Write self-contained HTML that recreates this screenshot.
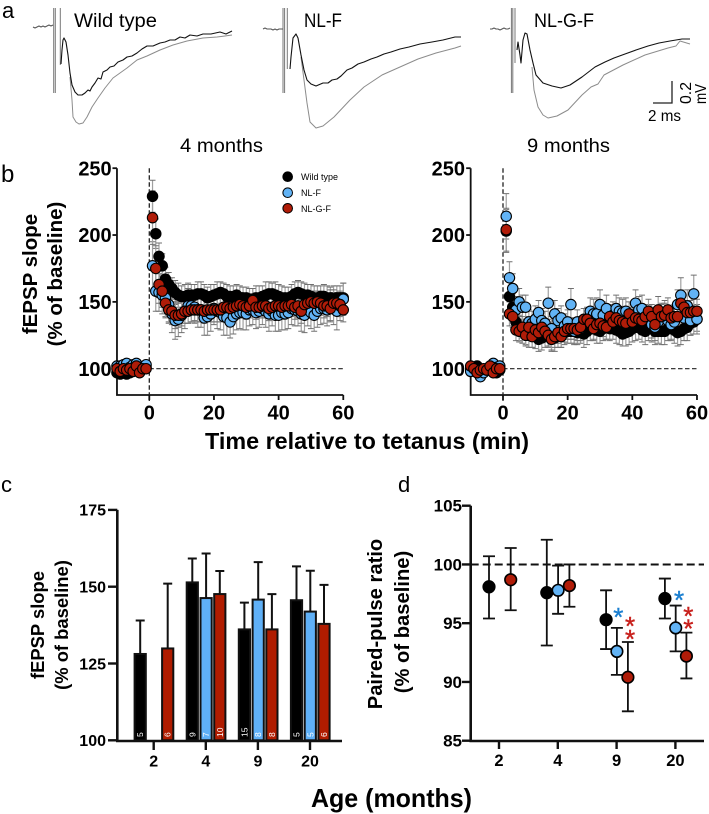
<!DOCTYPE html>
<html lang="en">
<head>
<meta charset="utf-8">
<title>fEPSP recordings by genotype and age</title>
<style>
html,body{margin:0;padding:0;background:#fff;width:709px;height:814px;overflow:hidden}
svg{display:block;font-family:"Liberation Sans",Arial,sans-serif}
</style>
</head>
<body>
<svg id="fig" width="709" height="814" viewBox="0 0 709 814" xmlns="http://www.w3.org/2000/svg">
  <g id="traces"></g>
  <g id="panelB"></g>
  <g id="panelC"></g>
  <g id="panelD"></g>

  <text x="2" y="18" font-size="22">a</text>
  <text x="1" y="182" font-size="24">b</text>
  <text x="1" y="492" font-size="22">c</text>
  <text x="398" y="492" font-size="22">d</text>

  <text x="74" y="27" font-size="19" textLength="83" lengthAdjust="spacingAndGlyphs">Wild type</text>
  <text x="304" y="27" font-size="19" textLength="38" lengthAdjust="spacingAndGlyphs">NL-F</text>
  <text x="534" y="27" font-size="19" textLength="60" lengthAdjust="spacingAndGlyphs">NL-G-F</text>

  <g>
    <path d="M672 81V103H653" fill="none" stroke="#222" stroke-width="1.3"/>
    <text x="648" y="121" font-size="16" textLength="33" lengthAdjust="spacingAndGlyphs">2 ms</text>
    <text transform="translate(691,104) rotate(-90)" font-size="16" textLength="22" lengthAdjust="spacingAndGlyphs">0.2</text>
    <text transform="translate(706,104) rotate(-90)" font-size="16" textLength="20" lengthAdjust="spacingAndGlyphs">mV</text>
  </g>

  <text x="180" y="152" font-size="19" textLength="83" lengthAdjust="spacingAndGlyphs">4 months</text>
  <text x="527" y="152" font-size="19" textLength="83" lengthAdjust="spacingAndGlyphs">9 months</text>

  <text transform="translate(37,274) rotate(-90)" text-anchor="middle" font-size="20.5" font-weight="bold">fEPSP slope</text>
  <text transform="translate(62,274) rotate(-90)" text-anchor="middle" font-size="20.5" font-weight="bold">(% of baseline)</text>
  <text x="205" y="449" font-size="23" font-weight="bold" textLength="324" lengthAdjust="spacingAndGlyphs">Time relative to tetanus (min)</text>

  <g>
    <g>
      <circle cx="287.7" cy="176.7" r="4.8" fill="#000" stroke="#000"/>
      <text x="301" y="180" font-size="9">Wild type</text>
    </g>
    <g>
      <circle cx="287.7" cy="192.7" r="4.8" fill="#62b3f5" stroke="#000"/>
      <text x="301" y="196" font-size="9">NL-F</text>
    </g>
    <g>
      <circle cx="287.7" cy="208.3" r="4.8" fill="#b01c08" stroke="#000"/>
      <text x="301" y="212" font-size="9">NL-G-F</text>
    </g>
  </g>

  <text transform="translate(44,625) rotate(-90)" text-anchor="middle" font-size="18.4" font-weight="bold">fEPSP slope</text>
  <text transform="translate(68,625) rotate(-90)" text-anchor="middle" font-size="18.4" font-weight="bold">(% of baseline)</text>
  <text transform="translate(382,624) rotate(-90)" text-anchor="middle" font-size="20.2" font-weight="bold">Paired-pulse ratio</text>
  <text transform="translate(409,622) rotate(-90)" text-anchor="middle" font-size="20.2" font-weight="bold">(% of baseline)</text>
  <text x="311" y="807" font-size="26" font-weight="bold" textLength="161" lengthAdjust="spacingAndGlyphs">Age (months)</text>
</svg>

<script>
// ---------- Panel a: field-potential traces (sample index / amplitude units from baseline) ----------
var baseT = [0,2,4,6,8,10,12,14,16,18,20];
var wtBaseA = [0,-1,0,1,0,1,0,1,2,1,2];
var nlfBaseA = [0,1,0,0,0,-1,0,-1,0,0,0];
var nlgfBaseA = [0,0,1,0,0,-1,0,1,0,0,1];

var wtBlackT = [28,29,30,31,33,35,37,39,42,45,49,52,55,57,59,62,65,68,70,74,77,81,85,90,94,99,104,109,114,120,127,132,137,142,147,152,157,164,170,178,187,193,199];
var wtBlackA = [-37,-23,-13,-11,-15,-28,-46,-58,-65,-68,-68,-66,-63,-64,-60,-56,-51,-52,-45,-43,-40,-39,-35,-33,-30,-29,-26,-22,-19,-19,-16,-15,-13,-13,-10,-11,-8,-9,-7,-7,-5,-7,-4];
var wtGrayT = [37,39,40,43,46,50,54,59,65,72,80,87,94,104,114,127,140,154,170,184,192,199];
var wtGrayA = [-50,-73,-90,-95,-97,-96,-90,-80,-71,-61,-51,-46,-41,-33,-29,-23,-18,-14,-11,-10,-9,-8];

var nlfBlackT = [27,28,30,33,35,38,41,44,48,53,60,65,69,74,78,84,89,95,101,108,114,121,128,137,146,157,169,180,192,198];
var nlfBlackA = [-40,-28,-9,-5,-9,-26,-41,-51,-55,-57,-54,-54,-51,-50,-47,-41,-39,-35,-33,-30,-28,-25,-23,-20,-18,-15,-13,-11,-8,-8];
var nlfGrayT = [38,41,44,47,53,60,71,87,101,119,137,155,173,192,198];
var nlfGrayA = [-28,-51,-74,-93,-99,-97,-88,-71,-58,-46,-38,-30,-24,-19,-17];

var nlgfBlackT = [27,28,30,31,33,35,37,40,43,46,53,62,71,80,92,105,115,124,135,146,158,169,180,192,200];
var nlgfBlackA = [-21,-13,-26,-34,-11,-4,-5,-21,-34,-46,-54,-57,-59,-56,-48,-38,-33,-29,-25,-21,-17,-14,-12,-10,-10];
var nlgfGrayT = [42,44,48,53,58,67,78,92,101,108,114,133,155,178,186,190,200];
var nlgfGrayA = [-38,-61,-78,-86,-89,-87,-81,-66,-58,-55,-46,-36,-26,-19,-17,-12,-15];

// ---------- Panel b: LTP time course ----------
var baselineMinutes = [-10,-9,-8,-7,-6,-5,-4,-3,-2,-1];
var postMinutes = [1,2,3,4,5,6,7,8,9,10,11,12,13,14,15,16,17,18,19,20,21,22,23,24,25,26,27,28,29,30,31,32,33,34,35,36,37,38,39,40,41,42,43,44,45,46,47,48,49,50,51,52,53,54,55,56,57,58,59,60];
var bAxisYTicks = [100,150,200,250];
var bAxisXTicks = [0,20,40,60];

var m4BlackBase = [97,96,97,96,97,99,100,99,100,101];
var m4BlueBase = [102,102,103,104,101,103,104,101,101,103];
var m4RedBase = [100,98,100,99,100,98,102,97,100,100];
var m4Black = [229,201,184,177,167,163,160,157,155,154,
154,155,155,155,156,156,155,153,154,155,
156,157,156,154,154,154,155,153,153,153,
152,152,153,153,154,155,156,156,155,154,
153,153,153,154,156,157,156,155,155,154,
153,153,154,154,153,153,152,153,153,153];
var m4Blue = [177,158,157,155,153,148,141,136,137,140,
143,147,147,146,144,144,138,139,141,145,
143,142,139,138,135,139,141,142,142,141,
144,144,142,143,145,143,141,143,140,140,
142,141,142,145,144,143,141,140,144,142,
140,143,145,145,144,147,146,143,147,152];
var m4Red = [213,175,163,158,149,144,143,140,140,141,
143,143,144,144,144,144,143,144,144,144,
144,144,146,146,145,146,147,148,147,146,
147,151,146,146,147,147,145,146,147,147,
146,147,147,148,146,147,143,148,149,150,
149,150,149,147,147,145,149,149,148,144];
var m4BlackErr = [12,11,10,9,9,9,8,9,9,8,
9,9,8,8,9,9,8,8,9,8,
9,8,8,9,8,8,8,9,8,8,
8,8,9,9,8,10,9,8,10,9,
9,8,8,9,9,9,9,9,8,9,
9,9,8,9,9,8,10,9,9,11];
var m4BlueErr = [18,15,14,14,14,13,14,14,13,13,
13,13,12,12,13,13,13,14,13,12,
13,13,14,13,12,13,12,12,13,12,
12,11,12,12,12,12,13,11,12,12,
13,12,12,12,12,11,13,13,12,12,
12,12,12,11,12,12,13,14,11,12];
var m4RedErr = [20,17,14,12,11,10,10,10,9,9,
9,9,9,8,9,9,9,8,9,9,
9,9,8,8,9,9,8,9,9,9,
9,9,9,8,9,9,9,9,8,8,
9,9,8,9,9,9,9,9,8,8,
9,8,9,9,8,9,8,8,9,9];

var m9BlackBase = [100,101,102,97,98,100,101,98,97,99];
var m9BlueBase = [98,100,97,94,97,99,100,104,101,102];
var m9RedBase = [102,100,97,99,100,99,102,97,100,100];
var m9Black = [203,154,146,135,130,128,127,125,125,124,
122,123,125,125,122,123,125,125,127,128,
128,128,127,128,126,128,130,130,129,128,
130,132,130,131,129,128,126,127,128,130,
131,131,129,128,131,130,128,128,128,128,
130,130,129,127,128,130,131,134,135,137];
var m9Blue = [214,168,160,144,150,146,146,135,134,137,
142,136,134,149,130,141,136,138,132,135,
148,128,135,130,135,136,143,141,141,148,
140,145,138,140,145,143,142,143,136,139,
149,144,145,138,137,133,131,135,139,141,
136,133,135,148,155,138,147,136,156,137];
var m9Red = [204,141,139,129,128,131,125,131,124,129,
127,131,128,125,122,124,127,124,128,130,
130,130,129,131,137,137,134,130,133,134,
132,131,139,135,138,136,135,134,141,135,
138,137,136,139,143,139,133,144,139,140,
144,138,139,139,149,146,142,142,143,143];
var m9BlackErr = [16,11,10,9,9,9,9,9,9,9,
9,9,9,9,9,10,9,9,9,9,
9,10,9,9,10,10,9,9,10,9,
9,10,9,9,10,10,9,10,10,10,
10,9,9,10,10,10,10,9,10,10,
9,9,10,10,10,9,10,9,9,9];
var m9BlueErr = [17,12,11,10,10,9,9,9,9,10,
9,9,9,12,9,10,9,9,9,9,
12,9,9,9,10,10,10,11,12,11,
10,10,10,10,10,10,10,10,10,10,
10,10,10,10,10,10,10,10,10,10,
10,11,10,11,13,12,12,11,14,11];
var m9RedErr = [16,9,8,8,8,8,8,8,8,8,
8,8,8,8,8,8,8,8,8,8,
8,8,8,8,8,8,8,8,8,8,
8,9,9,9,8,8,9,8,9,9,
9,9,8,9,9,9,9,10,9,9,
9,9,9,9,10,9,9,9,9,9];

// ---------- Panel c: bar chart ----------
var ageLabels = ["2","4","9","20"];
var cYTicks = [100,125,150,175];
var cBlack = [128.1,151.4,136.1,145.6];
var cBlackTop = [139,159.2,144.8,156.6];
var cBlackN = ["5","9","15","5"];
var cBlue = [null,146.3,145.8,141.9];
var cBlueTop = [null,160.8,158,155.2];
var cBlueN = [null,"7","8","5"];
var cRed = [129.9,147.6,136.1,137.9];
var cRedTop = [151,155.1,147.6,150.6];
var cRedN = ["6","10","8","6"];

// ---------- Panel d: paired-pulse ratio ----------
var dYTicks = [85,90,95,100,105];
var dBlack = [98.1,97.6,95.3,97.1];
var dBlackLow = [95.4,93.1,92.8,95.4];
var dBlackHigh = [100.7,102.1,97.8,98.8];
var dBlue = [null,97.8,92.6,94.6];
var dBlueLow = [null,95.8,90.6,92.6];
var dBlueHigh = [null,99.9,94.6,96.5];
var dRed = [98.7,98.2,90.4,92.2];
var dRedLow = [96.1,96.4,87.5,90.3];
var dRedHigh = [101.4,100,93.4,94.2];

var BLUE = "#62b3f5", RED = "#b01c08", BAR_BLUE = "#5fb0f7", BAR_RED = "#b01c00";
var NS = "http://www.w3.org/2000/svg";

function mk(parent, tag, attrs, txt) {
  var e = document.createElementNS(NS, tag);
  for (var k in attrs) e.setAttribute(k, attrs[k]);
  if (txt !== undefined) e.textContent = txt;
  parent.appendChild(e);
  return e;
}

// ----- traces -----
var traceHost = document.getElementById("traces");
function drawTrace(x0, y0, ts, as, color, width, name) {
  var pts = [];
  for (var i = 0; i < ts.length; i++) pts.push((x0 + ts[i]) + "," + (y0 - as[i]));
  var el = mk(traceHost, "polyline", {points: pts.join(" "), fill: "none", stroke: color, "stroke-width": width, "stroke-linejoin": "round"});
  
  
}
function drawStim(xs, y1, y2s) {
  for (var i = 0; i < xs.length; i++) {
    var s = mk(traceHost, "line", {x1: xs[i], x2: xs[i], y1: y1, y2: y2s[i], stroke: "#777", "stroke-width": 1});
    
    
  }
}
drawStim([53.7,55.3,60.3], 8, [93,93,65]);
drawStim([283,284.6,287.3], 8, [93,93,69]);
drawStim([511.4,512.8,515], 8, [93,93,63]);
drawTrace(33, 27, baseT, wtBaseA, "#555", 1, "wild-type-baseline");
drawTrace(263, 29, baseT, nlfBaseA, "#555", 1, "nl-f-baseline");
drawTrace(490, 29, baseT, nlgfBaseA, "#555", 1, "nl-g-f-baseline");
drawTrace(33, 27, wtGrayT, wtGrayA, "#8c8c8c", 1, "wild-type-gray-trace");
drawTrace(33, 27, wtBlackT, wtBlackA, "#111", 1.1, "wild-type-black-trace");
drawTrace(263, 29, nlfGrayT, nlfGrayA, "#8c8c8c", 1, "nl-f-gray-trace");
drawTrace(263, 29, nlfBlackT, nlfBlackA, "#111", 1.1, "nl-f-black-trace");
drawTrace(490, 29, nlgfGrayT, nlgfGrayA, "#8c8c8c", 1, "nl-g-f-gray-trace");
drawTrace(490, 29, nlgfBlackT, nlgfBlackA, "#111", 1.1, "nl-g-f-black-trace");

// ----- panel b -----
var panelB = document.getElementById("panelB");
function yB(v) { return 368.7 - (v - 100) * 1.3367; }

function drawTimeCourse(x0, labelRight, series, prefix) {
  function xT(m) { return x0 + m * 3.233; }
  var minutes = baselineMinutes.concat(postMinutes);
  var axisX = xT(-10);
  var a1 = mk(panelB, "path", {d: "M" + axisX + " " + yB(250) + "V395H" + xT(60), fill: "none", stroke: "#111", "stroke-width": 1.8});
  
  
  var dv = mk(panelB, "line", {x1: xT(0), x2: xT(0), y1: yB(250), y2: 401, stroke: "#222", "stroke-width": 1.3, "stroke-dasharray": "4.5 2.5"});
  
  
  var dh = mk(panelB, "line", {x1: xT(0), x2: xT(60), y1: yB(100), y2: yB(100), stroke: "#222", "stroke-width": 1.2, "stroke-dasharray": "4.5 2.5"});
  
  

  bAxisYTicks.forEach(function (t) {
    var k = mk(panelB, "line", {x1: axisX - 4.5, x2: axisX, y1: yB(t), y2: yB(t), stroke: "#111", "stroke-width": 1.8});
    
    
    var l = mk(panelB, "text", {x: labelRight, y: yB(t) + 7.2, "text-anchor": "end", "font-size": 20, "font-weight": "bold"}, String(t));
    
    
  });
  bAxisXTicks.forEach(function (t) {
    var k = mk(panelB, "line", {x1: xT(t), x2: xT(t), y1: 395, y2: 400, stroke: "#111", "stroke-width": 1.8});
    
    
    var l = mk(panelB, "text", {x: xT(t), y: 419.5, "text-anchor": "middle", "font-size": 20, "font-weight": "bold"}, String(t));
    
    
  });

  // all error bars sit beneath every marker, as in the reference
  series.forEach(function (s) {
    var vals = s.base.concat(s.post);
    var errs = [2,2,2,2,2,2,2,2,2,2].concat(s.err);
    var g = mk(panelB, "g", {});
    
    
    minutes.forEach(function (m, i) {
      var x = xT(m), hi = yB(vals[i] + errs[i]), lo = yB(vals[i] - errs[i]);
      var st = mk(g, "path", {d: "M" + x + " " + hi + "V" + lo, stroke: "#a0a0a0", "stroke-width": 1.2, fill: "none"});
      
      
      var cp = mk(g, "path", {d: "M" + (x - 3) + " " + hi + "h6M" + (x - 3) + " " + lo + "h6", stroke: "#707070", "stroke-width": 1, fill: "none"});
      
      
    });
  });
  series.forEach(function (s) {
    var vals = s.base.concat(s.post);
    var g = mk(panelB, "g", {});
    
    
    minutes.forEach(function (m, i) {
      var c = mk(g, "circle", {cx: xT(m), cy: yB(vals[i]), r: 5.2, fill: s.color, stroke: "#000", "stroke-width": 1.1});
      
      
    });
  });
}
drawTimeCourse(149.3, 111.7, [
  {name: "wild-type", base: m4BlackBase, post: m4Black, err: m4BlackErr, color: "#000"},
  {name: "nl-f", base: m4BlueBase, post: m4Blue, err: m4BlueErr, color: BLUE},
  {name: "nl-g-f", base: m4RedBase, post: m4Red, err: m4RedErr, color: RED}
], "b-4-months");
drawTimeCourse(503, 465, [
  {name: "wild-type", base: m9BlackBase, post: m9Black, err: m9BlackErr, color: "#000"},
  {name: "nl-f", base: m9BlueBase, post: m9Blue, err: m9BlueErr, color: BLUE},
  {name: "nl-g-f", base: m9RedBase, post: m9Red, err: m9RedErr, color: RED}
], "b-9-months");

// ----- panel c -----
var panelC = document.getElementById("panelC");
function yC(v) { return 740.3 - (v - 100) * 3.072; }
function xC(i) { return 153.7 + i * 52.1; }

var cAxes = mk(panelC, "path", {d: "M117.3 " + yC(175) + "V741H342", fill: "none", stroke: "#111", "stroke-width": 2.6});


cYTicks.forEach(function (t) {
  var k = mk(panelC, "line", {x1: 108, x2: 117.3, y1: yC(t), y2: yC(t), stroke: "#111", "stroke-width": 2.4});
  
  
  var l = mk(panelC, "text", {x: 106, y: yC(t) + 5.8, "text-anchor": "end", "font-size": 16, "font-weight": "bold"}, String(t));
  
  
});
ageLabels.forEach(function (t, i) {
  var k = mk(panelC, "line", {x1: xC(i), x2: xC(i), y1: 741, y2: 750, stroke: "#111", "stroke-width": 2.4});
  
  
  var l = mk(panelC, "text", {x: xC(i), y: 766.5, "text-anchor": "middle", "font-size": 16, "font-weight": "bold"}, t);
  
  
});
function drawBars(vals, tops, ns, offset, color, name) {
  vals.forEach(function (v, i) {
    if (v === null) return;
    var cx = xC(i) + offset;
    var eb = mk(panelC, "path", {d: "M" + cx + " " + yC(v) + "V" + yC(tops[i]) + "M" + (cx - 4.5) + " " + yC(tops[i]) + "h9", stroke: "#111", "stroke-width": 2, fill: "none"});
    
    
    var b = mk(panelC, "rect", {x: cx - 5.6, y: yC(v), width: 11.2, height: yC(100) - yC(v), fill: color, stroke: "#111", "stroke-width": 2});
    
    
    var n = mk(panelC, "text", {transform: "translate(" + (cx + 3) + ",737) rotate(-90)", "font-size": 8.5, fill: "#fff"}, ns[i]);
    
    
  });
}
drawBars(cBlack, cBlackTop, cBlackN, -13.5, "#000", "wild-type");
drawBars(cBlue, cBlueTop, cBlueN, 0.3, BAR_BLUE, "nl-f");
drawBars(cRed, cRedTop, cRedN, 14, BAR_RED, "nl-g-f");

// ----- panel d -----
var panelD = document.getElementById("panelD");
function yD(v) { return 740.7 - (v - 85) * 11.75; }
function xD(i) { return 499 + i * 58.8; }

var dAxes = mk(panelD, "path", {d: "M470.7 " + yD(105) + "V741H704", fill: "none", stroke: "#111", "stroke-width": 2.6});


var dRef = mk(panelD, "line", {x1: 470.7, x2: 704, y1: yD(100), y2: yD(100), stroke: "#111", "stroke-width": 2, "stroke-dasharray": "8 4"});


dYTicks.forEach(function (t) {
  var k = mk(panelD, "line", {x1: 462, x2: 470.7, y1: yD(t), y2: yD(t), stroke: "#111", "stroke-width": 2.4});
  
  
  var l = mk(panelD, "text", {x: 462, y: yD(t) + 6, "text-anchor": "end", "font-size": 17, "font-weight": "bold"}, String(t));
  
  
});
ageLabels.forEach(function (t, i) {
  var k = mk(panelD, "line", {x1: xD(i), x2: xD(i), y1: 741, y2: 749, stroke: "#111", "stroke-width": 2.4});
  
  
  var l = mk(panelD, "text", {x: xD(i), y: 766, "text-anchor": "middle", "font-size": 16.5, "font-weight": "bold"}, t);
  
  
});
function drawDots(vals, lows, highs, offsets, color, name) {
  vals.forEach(function (v, i) {
    if (v === null) return;
    var cx = xD(i) + offsets[i];
    var eb = mk(panelD, "path", {d: "M" + cx + " " + yD(lows[i]) + "V" + yD(highs[i]) + "M" + (cx - 6) + " " + yD(lows[i]) + "h12M" + (cx - 6) + " " + yD(highs[i]) + "h12", stroke: "#111", "stroke-width": 1.8, fill: "none"});
    
    
    var c = mk(panelD, "circle", {cx: cx, cy: yD(v), r: 5.8, fill: color, stroke: "#000", "stroke-width": 1.6});
    
    
  });
}
drawDots(dBlack, dBlackLow, dBlackHigh, [-10,-11,-10.5,-10.5], "#000", "wild-type");
drawDots(dBlue, dBlueLow, dBlueHigh, [0,0.3,0.3,0.3], BLUE, "nl-f");
drawDots(dRed, dRedLow, dRedHigh, [11.7,11.6,11.3,11], RED, "nl-g-f");

var sigX = [618.3,630,630,679,688.3,688.3];
var sigY = [611,620,633,594,610,622.5];
var sigColor = ["#1b7fd0","#c8201c","#c8201c","#1b7fd0","#c8201c","#c8201c"];
sigX.forEach(function (x, i) {
  var a = mk(panelD, "text", {x: x, y: sigY[i] + 15, "text-anchor": "middle", "font-size": 26, fill: sigColor[i], stroke: sigColor[i], "stroke-width": 0.4}, "*");
  
  
});
</script>
</body>
</html>
